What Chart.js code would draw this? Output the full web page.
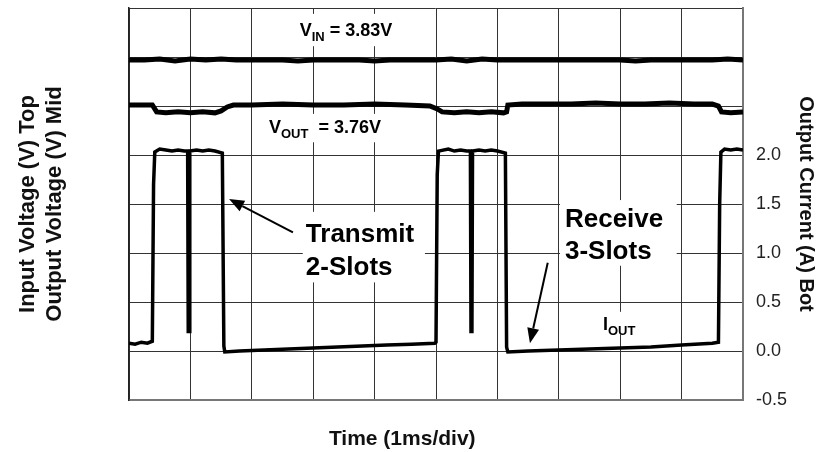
<!DOCTYPE html>
<html>
<head>
<meta charset="utf-8">
<script src="https://cdn.jsdelivr.net/npm/chart.js@4.4.1/dist/chart.umd.min.js"></script>
<style>
html, body { margin: 0; padding: 0; background: #fff; }
#wrap { width: 829px; height: 452px; }
</style>
</head>
<body>
<div id="wrap"><canvas id="scope"></canvas></div>
<script>
// time in ms (1ms/div), traces in the shared screen units of the right axis
var ioutTime = [0, 0.1, 0.2, 0.3, 0.38, 0.40, 0.42, 0.5, 0.6, 0.7, 0.8, 0.9, 0.955, 0.965, 0.98, 0.99,
	1.1, 1.2, 1.3, 1.4, 1.52, 1.545, 1.56, 1.8, 2.2, 2.6, 3.0, 3.4, 3.8, 4.2, 4.6, 4.98,
	5.0, 5.02, 5.04, 5.2, 5.3, 5.4, 5.5, 5.56, 5.57, 5.585, 5.595, 5.7, 5.8, 5.9, 6.0, 6.13, 6.15, 6.17,
	6.5, 7.0, 7.5, 8.0, 8.5, 9.0, 9.5, 9.6, 9.62, 9.64, 9.7, 9.8, 9.9, 10];
var iout = [0.08, 0.07, 0.09, 0.08, 0.10, 1.70, 2.03, 2.06, 2.05, 2.04, 2.05, 2.04, 2.04, 0.20, 0.20, 2.04,
	2.05, 2.04, 2.05, 2.04, 2.02, 0.05, -0.01, 0.00, 0.01, 0.02, 0.03, 0.04, 0.05, 0.06, 0.07, 0.08,
	0.09, 1.80, 2.04, 2.06, 2.04, 2.05, 2.04, 2.04, 0.20, 0.20, 2.04, 2.05, 2.04, 2.05, 2.04, 2.02, 0.04, -0.01,
	0.00, 0.01, 0.02, 0.03, 0.04, 0.06, 0.08, 0.09, 1.50, 2.03, 2.06, 2.05, 2.06, 2.05];

var vinTime = [0, 0.25, 0.5, 0.75, 1.0, 1.25, 1.5, 1.75, 2.0, 2.25, 2.5, 2.75, 3.0, 3.25, 3.5, 3.75, 4.0, 4.25, 4.5, 4.75,
	5.0, 5.25, 5.5, 5.75, 6.0, 6.25, 6.5, 6.75, 7.0, 7.25, 7.5, 7.75, 8.0, 8.25, 8.5, 8.75, 9.0, 9.25, 9.5, 9.75, 10];
var vin = [2.97, 2.97, 2.98, 2.96, 2.98, 2.97, 2.98, 2.97, 2.97, 2.97, 2.97, 2.96, 2.97, 2.97, 2.97, 2.97, 2.96, 2.97, 2.97, 2.97,
	2.97, 2.98, 2.96, 2.98, 2.97, 2.97, 2.97, 2.97, 2.97, 2.97, 2.97, 2.97, 2.97, 2.96, 2.97, 2.97, 2.97, 2.97, 2.97, 2.98, 2.97];

var voutTime = [0, 0.2, 0.38, 0.45, 0.6, 0.8, 1.0, 1.2, 1.4, 1.5, 1.6, 1.7, 2.0, 2.5, 3.0, 3.5, 4.0, 4.5, 4.9,
	5.02, 5.1, 5.3, 5.5, 5.7, 5.9, 6.1, 6.15, 6.17, 6.4, 6.8, 7.2, 7.6, 8.0, 8.4, 8.8, 9.2, 9.5, 9.6, 9.65, 9.8, 10];
var vout = [2.51, 2.51, 2.51, 2.44, 2.43, 2.44, 2.43, 2.44, 2.43, 2.45, 2.49, 2.51, 2.51, 2.52, 2.51, 2.51, 2.52, 2.51, 2.50,
	2.47, 2.44, 2.43, 2.44, 2.43, 2.44, 2.43, 2.44, 2.51, 2.52, 2.52, 2.52, 2.53, 2.52, 2.52, 2.53, 2.52, 2.52, 2.50, 2.44, 2.43, 2.44];

var FONT = '"Liberation Sans", Arial, sans-serif';
var xTitle = 'Time (1ms/div)';

function pts(xs, ys) {
	return xs.map(function (t, i) { return { x: t, y: ys[i] }; });
}

// white patches behind the annotations (grid is broken there on the scope shot)
var noteBoxes = [
	[2.70, 3.44, 4.58, 3.11],
	[2.17, 2.42, 4.33, 2.13],
	[2.83, 1.42, 4.82, 0.70],
	[7.02, 1.54, 8.92, 0.87],
	[7.67, 0.40, 8.26, 0.17]
];

var notes = [
	{ t: 2.78, v: 3.21, main: 'V', sub: 'IN', rest: ' = 3.83V', size: 18 },
	{ t: 2.28, v: 2.22, main: 'V', sub: 'OUT', rest: '  = 3.76V', size: 18 },
	{ t: 7.72, v: 0.21, main: 'I', sub: 'OUT', rest: '', size: 18 },
	{ t: 2.88, v: 1.11, main: 'Transmit', size: 26 },
	{ t: 2.88, v: 0.78, main: '2-Slots', size: 26 },
	{ t: 7.10, v: 1.27, main: 'Receive', size: 26 },
	{ t: 7.10, v: 0.94, main: '3-Slots', size: 26 }
];

// [tail t, tail v, tip t, tip v]
var arrows = [
	[2.67, 1.21, 1.63, 1.55],
	[6.82, 0.90, 6.53, 0.08]
];

var scopeNotes = {
	id: 'scopeNotes',
	beforeDatasetsDraw: function (chart) {
		var ctx = chart.ctx, sx = chart.scales.x, sy = chart.scales.y;
		ctx.save();
		ctx.fillStyle = '#fff';
		noteBoxes.forEach(function (b) {
			var x1 = sx.getPixelForValue(b[0]), y1 = sy.getPixelForValue(b[1]);
			var x2 = sx.getPixelForValue(b[2]), y2 = sy.getPixelForValue(b[3]);
			ctx.fillRect(x1, y1, x2 - x1, y2 - y1);
		});
		ctx.restore();
	},
	afterDatasetsDraw: function (chart) {
		var ctx = chart.ctx, sx = chart.scales.x, sy = chart.scales.y;
		ctx.save();
		ctx.fillStyle = '#000';
		ctx.strokeStyle = '#000';
		ctx.textBaseline = 'alphabetic';
		ctx.textAlign = 'left';
		notes.forEach(function (n) {
			var x = sx.getPixelForValue(n.t), y = sy.getPixelForValue(n.v);
			ctx.font = 'bold ' + n.size + 'px ' + FONT;
			ctx.fillText(n.main, x, y);
			if (n.sub) {
				x += ctx.measureText(n.main).width;
				ctx.font = 'bold 13px ' + FONT;
				ctx.fillText(n.sub, x, y + 5);
				x += ctx.measureText(n.sub).width;
				ctx.font = 'bold ' + n.size + 'px ' + FONT;
				ctx.fillText(n.rest, x, y);
			}
		});
		ctx.lineWidth = 2;
		arrows.forEach(function (a) {
			var x1 = sx.getPixelForValue(a[0]), y1 = sy.getPixelForValue(a[1]);
			var x2 = sx.getPixelForValue(a[2]), y2 = sy.getPixelForValue(a[3]);
			var ang = Math.atan2(y2 - y1, x2 - x1);
			var len = 15, hw = 6;
			var bx = x2 - len * Math.cos(ang), by = y2 - len * Math.sin(ang);
			ctx.beginPath();
			ctx.moveTo(x1, y1);
			ctx.lineTo(bx, by);
			ctx.stroke();
			ctx.beginPath();
			ctx.moveTo(x2, y2);
			ctx.lineTo(bx + hw * Math.sin(ang), by - hw * Math.cos(ang));
			ctx.lineTo(bx - hw * Math.sin(ang), by + hw * Math.cos(ang));
			ctx.closePath();
			ctx.fill();
		});
		// x title sits left of the plot centre in the original
		ctx.font = 'bold 21px ' + FONT;
		ctx.fillStyle = '#111';
		ctx.textAlign = 'center';
		ctx.textBaseline = 'middle';
		ctx.fillText(xTitle, sx.getPixelForValue(4.45), sx.bottom - 13);
		ctx.restore();
	}
};

function noVertPad(s) {
	s.paddingTop = 0;
	s.paddingBottom = 0;
}

var ctx = document.getElementById('scope').getContext('2d');
var scopeChart = new Chart(ctx, {
	type: 'line',
	data: {
		datasets: [
			{ label: 'VIN', data: pts(vinTime, vin), borderColor: '#000', borderWidth: 5 },
			{ label: 'VOUT', data: pts(voutTime, vout), borderColor: '#000', borderWidth: 5 },
			{ label: 'IOUT', data: pts(ioutTime, iout), borderColor: '#000', borderWidth: 3.5 }
		]
	},
	options: {
		responsive: true,
		maintainAspectRatio: false,
		animation: false,
		layout: { padding: { top: 8, left: 0, right: 0, bottom: 0 } },
		elements: { point: { radius: 0 }, line: { tension: 0, fill: false } },
		plugins: { legend: { display: false }, tooltip: { enabled: false } },
		scales: {
			x: {
				type: 'linear',
				min: 0,
				max: 10,
				ticks: { stepSize: 1, display: false },
				grid: { color: '#333', lineWidth: 1, drawTicks: false },
				border: { color: '#777', width: 2 },
				title: { display: false },
				afterFit: function (s) { s.height = 52; }
			},
			yL: {
				position: 'left',
				min: -0.5,
				max: 3.5,
				ticks: { display: false },
				grid: { drawOnChartArea: false, drawTicks: false },
				border: { color: '#222', width: 1.5 },
				title: {
					display: true,
					text: ['Input Voltage (V) Top', 'Output Voltage (V) Mid'],
					color: '#111',
					font: { family: FONT, size: 22, weight: 'bold', lineHeight: 1.25 },
					padding: { top: 14, bottom: 0 }
				},
				afterFit: function (s) { s.width = 129; noVertPad(s); }
			},
			y: {
				position: 'right',
				min: -0.5,
				max: 3.5,
				ticks: {
					stepSize: 0.5,
					padding: 13,
					color: '#222',
					font: { family: FONT, size: 18 },
					callback: function (v) { return v <= 2.05 ? v.toFixed(1) : ''; }
				},
				grid: { color: '#333', lineWidth: 1, drawTicks: false },
				border: { color: '#777', width: 2 },
				title: {
					display: true,
					text: 'Output Current (A) Bot',
					color: '#111',
					font: { family: FONT, size: 20, weight: 'bold' },
					padding: { top: 11, bottom: 0 }
				},
				afterFit: function (s) { s.width = 86; noVertPad(s); }
			}
		}
	},
	plugins: [scopeNotes]
});
</script>
</body>
</html>
